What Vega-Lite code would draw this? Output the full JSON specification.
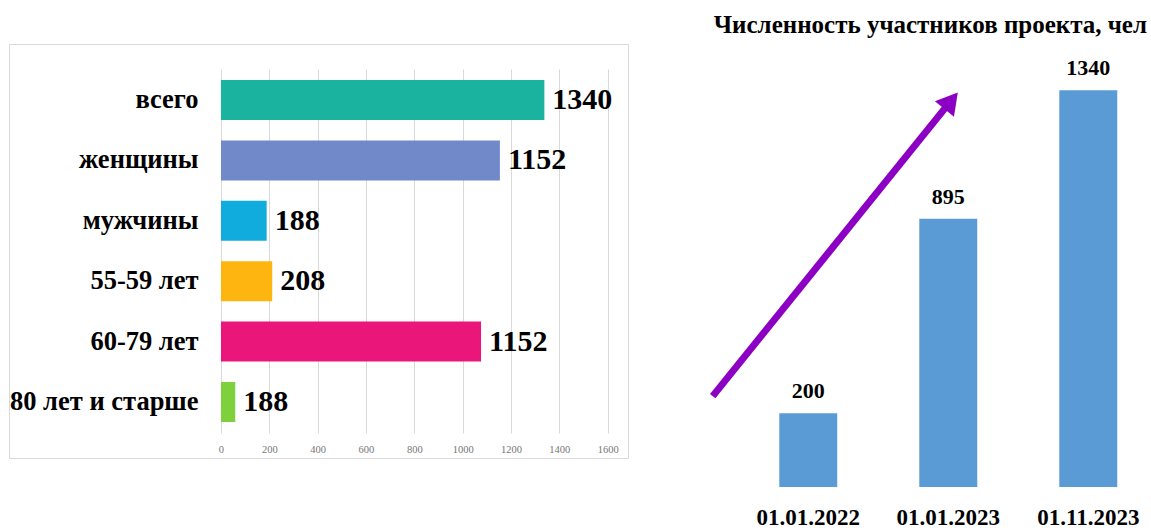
{
  "$schema": "https://vega.github.io/schema/vega-lite/v6.json",
  "padding": {"left": 8, "top": 13, "right": 5, "bottom": 0},
  "background": "white",
  "bounds": "flush",
  "spacing": 63,
  "config": {"font": "Liberation Serif", "view": {"stroke": null}},
  "datasets": {
    "groups": [
      {"category": "всего", "value": 1338, "label": "1340"},
      {"category": "женщины", "value": 1154, "label": "1152"},
      {"category": "мужчины", "value": 189, "label": "188"},
      {"category": "55-59 лет", "value": 212, "label": "208"},
      {"category": "60-79 лет", "value": 1076, "label": "1152"},
      {"category": "80 лет и старше", "value": 59, "label": "188"}
    ],
    "participants": [
      {"date": "01.01.2022", "value": 249, "label": "200"},
      {"date": "01.01.2023", "value": 906, "label": "895"},
      {"date": "01.11.2023", "value": 1340, "label": "1340"}
    ],
    "arrow": [{"x": -0.683, "y": 307, "x2": 0.984, "y2": 1284}],
    "arrowhead": [{"x": 1.02, "y": 1305}]
  },
  "hconcat": [
    {
      "width": 619,
      "height": 414,
      "view": {"stroke": "#d9d9d9", "strokeWidth": 1},
      "data": {"name": "groups"},
      "encoding": {
        "y": {
          "field": "category",
          "type": "nominal",
          "sort": null,
          "scale": {"range": [25, 389], "paddingInner": 0.338, "paddingOuter": 0.182},
          "axis": {
            "orient": "left",
            "offset": -191,
            "labelPadding": 2,
            "domain": false,
            "ticks": false,
            "grid": false,
            "title": null,
            "labelFont": "Liberation Serif",
            "labelFontWeight": "bold",
            "labelFontSize": 26.5,
            "labelColor": "#000000",
            "labelLimit": 400
          }
        },
        "x": {
          "field": "value",
          "type": "quantitative",
          "scale": {"domain": [-877, 1684], "nice": false, "zero": false},
          "axis": {
            "values": [0, 200, 400, 600, 800, 1000, 1200, 1400, 1600],
            "format": "d",
            "grid": true,
            "gridColor": "#d9d9d9",
            "domain": false,
            "ticks": false,
            "offset": -16,
            "labelPadding": 2,
            "title": null,
            "labelFont": "Liberation Serif",
            "labelFontSize": 10.5,
            "labelColor": "#767676",
            "labelFlush": false
          }
        }
      },
      "layer": [
        {
          "mark": {"type": "bar"},
          "encoding": {
            "x2": {"datum": 0},
            "color": {
              "field": "category",
              "type": "nominal",
              "sort": null,
              "scale": {
                "domain": ["всего", "женщины", "мужчины", "55-59 лет", "60-79 лет", "80 лет и старше"],
                "range": ["#1ab39f", "#7189c9", "#10acdd", "#ffb50f", "#ea1679", "#7ed03c"]
              },
              "legend": null
            }
          }
        },
        {
          "mark": {
            "type": "text",
            "align": "left",
            "baseline": "middle",
            "dx": 8,
            "font": "Liberation Serif",
            "fontWeight": "bold",
            "fontSize": 30,
            "color": "#000000"
          },
          "encoding": {"text": {"field": "label"}}
        }
      ]
    },
    {
      "width": 456,
      "height": 443,
      "title": {
        "text": "Численность участников проекта, чел",
        "anchor": "end",
        "frame": "group",
        "offset": 6,
        "font": "Liberation Serif",
        "fontWeight": "bold",
        "fontSize": 25,
        "color": "#000000"
      },
      "layer": [
        {
          "data": {"name": "participants"},
          "encoding": {
            "x": {
              "field": "date",
              "type": "nominal",
              "sort": null,
              "scale": {"paddingInner": 0.586, "paddingOuter": 0.4215, "align": 0.748},
              "axis": {
                "labelAngle": 0,
                "domain": false,
                "ticks": false,
                "labelPadding": 19,
                "title": null,
                "labelFont": "Liberation Serif",
                "labelFontWeight": "bold",
                "labelFontSize": 23,
                "labelColor": "#000000"
              }
            },
            "y": {
              "field": "value",
              "type": "quantitative",
              "scale": {"domain": [0, 1496.5], "nice": false, "zero": false},
              "axis": null
            }
          },
          "layer": [
            {"mark": {"type": "bar", "color": "#5b9bd5"}},
            {
              "mark": {
                "type": "text",
                "baseline": "alphabetic",
                "dy": -15,
                "font": "Liberation Serif",
                "fontWeight": "bold",
                "fontSize": 22,
                "color": "#000000"
              },
              "encoding": {"text": {"field": "label"}}
            }
          ]
        },
        {
          "layer": [
            {
              "data": {"name": "arrow"},
              "mark": {"type": "rule", "color": "#8c00c3", "strokeWidth": 7},
              "encoding": {
                "x": {"field": "x", "type": "quantitative", "scale": {"domain": [-0.838, 2.419], "nice": false, "zero": false}, "axis": null},
                "x2": {"field": "x2"},
                "y": {"field": "y", "type": "quantitative", "scale": {"domain": [0, 1496.5], "nice": false, "zero": false}, "axis": null},
                "y2": {"field": "y2"}
              }
            },
            {
              "data": {"name": "arrowhead"},
              "mark": {"type": "point", "shape": "triangle-up", "filled": true, "size": 600, "angle": 39, "color": "#8c00c3", "opacity": 1},
              "encoding": {
                "x": {"field": "x", "type": "quantitative", "axis": null},
                "y": {"field": "y", "type": "quantitative", "axis": null}
              }
            }
          ]
        }
      ],
      "resolve": {"scale": {"x": "independent"}}
    }
  ]
}
